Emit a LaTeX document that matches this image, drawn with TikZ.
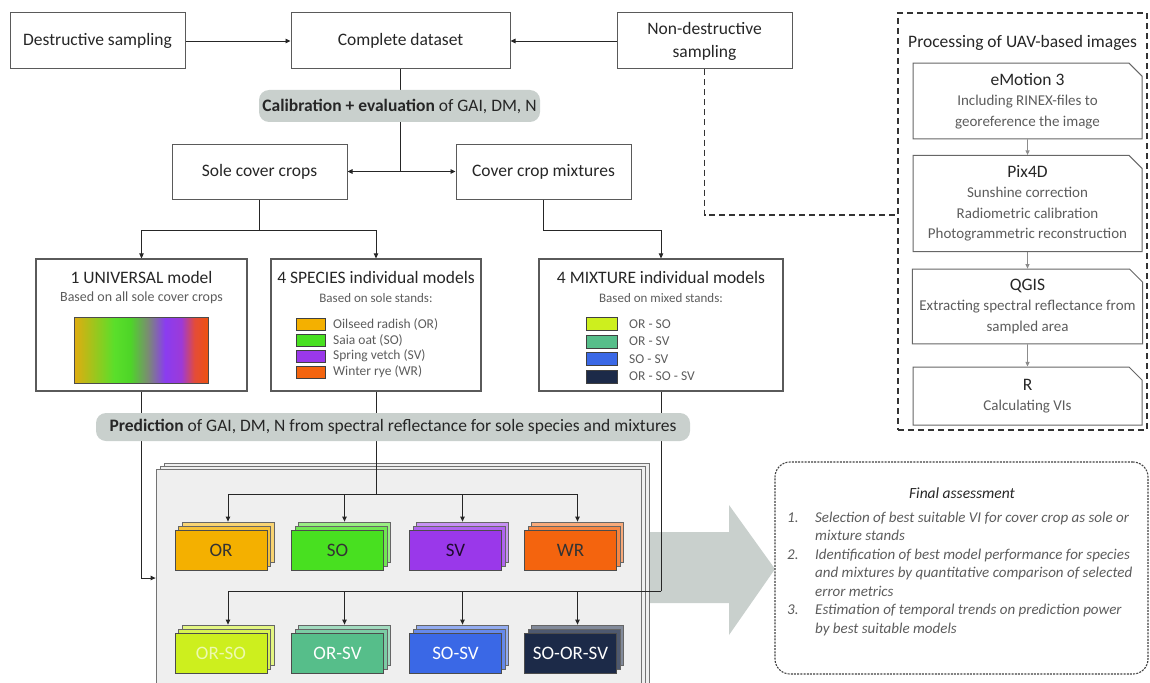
\documentclass[tikz,border=0pt]{standalone}
\usepackage{fontspec}
\setmainfont{Carlito}
\usepackage{xcolor}
\usetikzlibrary{arrows.meta,shapes.misc,shadows}
\pgfdeclarelayer{bottom}
\pgfdeclarelayer{lines}
\pgfsetlayers{bottom,lines,main}

\definecolor{pillgrey}{HTML}{C9D0CD}
\definecolor{boxline}{HTML}{5A5A5A}
\definecolor{subgrey}{HTML}{5C5C5C}
\definecolor{panelfill}{HTML}{EFEFEF}
\definecolor{colOR}{HTML}{F4B000}
\definecolor{colSO}{HTML}{48E020}
\definecolor{colSV}{HTML}{9A38EA}
\definecolor{colWR}{HTML}{F4640E}
\definecolor{colORSO}{HTML}{CDEF1E}
\definecolor{colORSV}{HTML}{56BE8A}
\definecolor{colSOSV}{HTML}{3A68E6}
\definecolor{colSOORSV}{HTML}{1C2A48}
\definecolor{spA}{HTML}{E0AC10}
\definecolor{spB}{HTML}{5ADF2A}
\definecolor{spC}{HTML}{4ED528}
\definecolor{spD}{HTML}{7A8C72}
\definecolor{spE}{HTML}{8A3CF0}
\definecolor{spF}{HTML}{9C3AD8}
\definecolor{spG}{HTML}{E44C38}
\definecolor{spH}{HTML}{EE5210}
\pgfdeclarehorizontalshading{spectrum}{100bp}{color(0bp)=(spA); color(25bp)=(spA); color(40bp)=(spB); color(46bp)=(spC); color(52.5bp)=(spD); color(59bp)=(spE); color(65bp)=(spF); color(70bp)=(spG); color(75bp)=(spH); color(100bp)=(spH)}

\begin{document}
\begin{tikzpicture}[x=1pt,y=-1pt,
  box/.style={draw=boxline,line width=1pt,minimum width=175pt,minimum height=56pt,align=center,text=black!85,font=\fontsize{17.5}{23}\selectfont},
  model/.style={draw=boxline,line width=1.2pt,minimum height=132pt},
  mtitle/.style={inner sep=0pt,text=black!85,font=\fontsize{17.5}{19}\selectfont},
  msub/.style={inner sep=0pt,text=subgrey,font=\fontsize{13}{15}\selectfont},
  pill/.style={fill=pillgrey,rounded corners=10pt,inner sep=0pt,text=black!85,font=\fontsize{17.5}{19}\selectfont},
  swatch/.style={draw=black!75,line width=0.6pt,fill=#1,minimum width=29pt,minimum height=12pt,inner sep=0pt},
  leglabel/.style={anchor=west,inner sep=0pt,text=subgrey,font=\fontsize{13.5}{15}\selectfont},
  panel/.style={draw=black!55,line width=0.8pt,fill=panelfill,minimum width=485pt,minimum height=232pt,
    copy shadow={shadow xshift=8pt,shadow yshift=6pt,fill=panelfill,draw=black!55},
    copy shadow={shadow xshift=4pt,shadow yshift=3pt,fill=panelfill,draw=black!55}},
  tile/.style={draw=black!70,line width=0.8pt,fill=#1,minimum width=92pt,minimum height=40pt,text=black!80,font=\fontsize{19}{21}\selectfont,
    copy shadow={shadow xshift=7pt,shadow yshift=8pt,fill=#1!55!white,draw=black!60},
    copy shadow={shadow xshift=3.5pt,shadow yshift=4pt,fill=#1!78!white,draw=black!60}},
  uavbox/.style={chamfered rectangle,chamfered rectangle corners=north east,chamfered rectangle xsep=5pt,chamfered rectangle ysep=8pt,
    draw=black!60,line width=1pt,minimum width=229pt,align=center,inner sep=2pt,text=subgrey,font=\fontsize{15}{20.5}\selectfont},
  conn/.style={line width=0.9pt,black!85},
  arr/.style={conn,-{Triangle[length=5pt,width=4.5pt]}},
  uavarr/.style={line width=0.8pt,black!45,-{Triangle[length=4.5pt,width=4pt]}},
  dashline/.style={line width=1.4pt,black!80,dash pattern=on 6pt off 4pt}]
\useasboundingbox (0,0) rectangle (1150,682);

% top row
\node[box] (destr) at (97.5,41) {Destructive sampling};
\node[box,minimum width=219pt] (complete) at (400.5,41) {Complete dataset};
\node[box] (nondestr) at (704.5,41) {Non-destructive\\sampling};
\node[pill,minimum width=281pt,minimum height=32pt] (calib) at (399.5,106) {\textbf{Calibration + evaluation} of GAI, DM, N};
\node[box,minimum height=55pt] (sole) at (259.5,171.5) {Sole cover crops};
\node[box,minimum height=55pt] (mixtures) at (543.5,171.5) {Cover crop mixtures};

% model boxes
\node[model,minimum width=211pt] (universal) at (141.5,325) {};
\node[mtitle] (unititle) at (141.5,277) {1 UNIVERSAL model};
\node[msub,font=\fontsize{14}{15}\selectfont] (unisub) at (141.5,298) {Based on all sole cover crops};
\node[draw=black!70,line width=0.8pt,shading=spectrum,minimum width=134pt,minimum height=66pt,inner sep=0pt] (unigrad) at (141,350) {};

\node[model,minimum width=210pt] (species) at (376,325) {};
\node[mtitle] (spetitle) at (376,277) {4 SPECIES individual models};
\node[msub] (spesub) at (376,298) {Based on sole stands:};
\node[swatch=colOR] (swOR) at (310.5,324) {};
\node[leglabel] (lbOR) at (333,324) {Oilseed radish (OR)};
\node[swatch=colSO] (swSO) at (310.5,340) {};
\node[leglabel] (lbSO) at (333,340) {Saia oat (SO)};
\node[swatch=colSV] (swSV) at (310.5,356) {};
\node[leglabel] (lbSV) at (333,356) {Spring vetch (SV)};
\node[swatch=colWR] (swWR) at (310.5,372) {};
\node[leglabel] (lbWR) at (333,372) {Winter rye (WR)};

\node[model,minimum width=244pt] (mixture) at (661,325) {};
\node[mtitle] (mixtitle) at (661,277) {4 MIXTURE individual models};
\node[msub] (mixsub) at (661,298) {Based on mixed stands:};
\node[swatch=colORSO,minimum width=31pt,minimum height=13pt] (swORSO) at (601.5,324) {};
\node[leglabel] (lbORSO) at (629,324) {OR - SO};
\node[swatch=colORSV,minimum width=31pt,minimum height=13pt] (swORSV) at (601.5,341.5) {};
\node[leglabel] (lbORSV) at (629,341.5) {OR - SV};
\node[swatch=colSOSV,minimum width=31pt,minimum height=13pt] (swSOSV) at (601.5,359) {};
\node[leglabel] (lbSOSV) at (629,359) {SO - SV};
\node[swatch=colSOORSV,minimum width=31pt,minimum height=13pt] (swSOORSV) at (601.5,376.5) {};
\node[leglabel] (lbSOORSV) at (629,376.5) {OR - SO - SV};

\node[pill,minimum width=594pt,minimum height=28pt] (predict) at (393,427) {\textbf{Prediction} of GAI, DM, N from spectral reflectance for sole species and mixtures};

% prediction panel and arrow to the assessment
\begin{pgfonlayer}{bottom}
\fill[pillgrey] (645,532) -- (729,532) -- (729,505) -- (775,569) -- (729,635) -- (729,603) -- (645,603) -- cycle;
\node[panel] (panel) at (398.5,585) {};
\end{pgfonlayer}

\node[tile=colOR] (tOR) at (221,550) {OR};
\node[tile=colSO] (tSO) at (337.5,550) {SO};
\node[tile=colSV,text=black!80!colSV] (tSV) at (455.5,550) {SV};
\node[tile=colWR] (tWR) at (570.5,550) {WR};
\node[tile=colORSO,text=colORSO!35!white] (tORSO) at (221,653) {OR-SO};
\node[tile=colORSV,text=white] (tORSV) at (337.5,653) {OR-SV};
\node[tile=colSOSV,text=white] (tSOSV) at (455.5,653) {SO-SV};
\node[tile=colSOORSV,text=white] (tSOORSV) at (570.5,653) {SO-OR-SV};

% UAV processing
\node[draw,dashline,minimum width=249pt,minimum height=417pt] (proc) at (1022.5,221.5) {};
\node[anchor=west,inner sep=0pt,text=black!85,font=\fontsize{17.5}{20}\selectfont] (proctitle) at (908,43) {Processing of UAV-based images};
\node[uavbox,minimum height=68pt] (emo) at (1027.5,101) {{\fontsize{17.5}{20}\selectfont\color{black!85}eMotion 3}\\Including RINEX-files to\\georeference the image};
\node[uavbox,minimum height=87pt] (pix) at (1027.5,203.5) {{\fontsize{17.5}{20}\selectfont\color{black!85}Pix4D}\\Sunshine correction\\Radiometric calibration\\Photogrammetric reconstruction};
\node[uavbox,minimum height=67pt] (qgis) at (1027.5,306.5) {{\fontsize{17.5}{20}\selectfont\color{black!85}QGIS}\\Extracting spectral reflectance from\\sampled area};
\node[uavbox,minimum height=58pt] (rbox) at (1027.5,396) {{\fontsize{17.5}{20}\selectfont\color{black!85}R}\\Calculating VIs};

% final assessment
\node[draw=black!75,line width=1.1pt,dash pattern=on 2pt off 1.2pt,rounded corners=15pt,minimum width=373pt,minimum height=212pt] (final) at (961.5,568) {};
\node[text=black!85,font=\fontsize{15.5}{18}\selectfont\itshape] (fintitle) at (962,493) {Final assessment};
\node[anchor=north west,inner sep=0pt,text=subgrey,font=\fontsize{15}{18.5}\selectfont\itshape] (finlist) at (787,509) {\begin{tabular}{@{}p{28pt}@{}l@{}}
1. & Selection of best suitable VI for cover crop as sole or\\
 & mixture stands\\
2. & Identification of best model performance for species\\
 & and mixtures by quantitative comparison of selected\\
 & error metrics\\
3. & Estimation of temporal trends on prediction power\\
 & by best suitable models
\end{tabular}};

% connectors
\begin{pgfonlayer}{lines}
\draw[arr] (destr) -- (complete);
\draw[arr] (nondestr) -- (complete);
\coordinate (split) at (400.5,171.5);
\draw[conn] (complete.south) -- (split);
\draw[arr] (split) -- (sole);
\draw[arr] (split) -- (mixtures);
\draw[conn] (sole.south) -- ++(0,31) coordinate (solefork);
\draw[arr] (solefork) -| (universal.north);
\draw[arr] (solefork) -| (species.north);
\draw[arr] (mixtures.south) -- ++(0,31) -| (mixture.north);
\coordinate (unlevel) at (0,578);
\draw[arr] (universal.south) |- (panel.west |- unlevel);
\draw[conn] (species.south) -- (376,494) coordinate (spefork);
\draw[arr] (spefork) -| ([xshift=7pt,yshift=8pt]tOR.north);
\draw[arr] (spefork) -| ([xshift=7pt,yshift=8pt]tSO.north);
\draw[arr] (spefork) -| ([xshift=7pt,yshift=8pt]tSV.north);
\draw[arr] (spefork) -| ([xshift=7pt,yshift=8pt]tWR.north);
\draw[conn] (mixture.south) -- (661,591) coordinate (mixfork);
\draw[arr] (mixfork) -| ([xshift=7pt,yshift=8pt]tORSO.north);
\draw[arr] (mixfork) -| ([xshift=7pt,yshift=8pt]tORSV.north);
\draw[arr] (mixfork) -| ([xshift=7pt,yshift=8pt]tSOSV.north);
\draw[arr] (mixfork) -| ([xshift=7pt,yshift=8pt]tSOORSV.north);
\draw[dashline] (nondestr.south) |- ([yshift=6.5pt]proc.west);
\draw[uavarr] (emo) -- (pix);
\draw[uavarr] (pix) -- (qgis);
\draw[uavarr] (qgis) -- (rbox);
\end{pgfonlayer}
\end{tikzpicture}
\end{document}
